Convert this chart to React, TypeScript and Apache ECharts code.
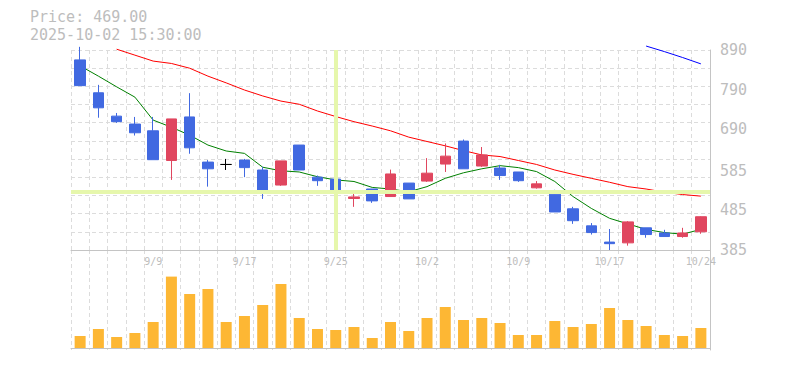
import React, { useEffect, useRef } from 'react';
import * as echarts from 'echarts';

const dates = ['9/3','9/4','9/5','9/8','9/9','9/10','9/11','9/12','9/16','9/17','9/18','9/19','9/22','9/24','9/25','9/26','9/29','9/30','10/1','10/2','10/3','10/6','10/7','10/8','10/9','10/10','10/14','10/15','10/16','10/17','10/20','10/21','10/22','10/23','10/24'];
const opens  = [865,782,723,703,686,611,721,607,601,612,587,549,650,569,564,515,539,520,554,559,602,660,597,592,582,542,526,489,446,405,403,441,428,419,431];
const closes = [800,744,709,681,613,716,643,590,601,593,530,610,587,560,532,519,509,577,514,579,622,590,625,573,560,552,481,459,429,401,456,424,419,428,469];
const lows   = [800,719,706,674,613,562,628,545,587,569,514,547,587,547,532,494,504,520,514,557,582,590,595,562,557,540,481,451,424,385,396,416,419,416,426];
const highs  = [898,802,731,721,721,716,781,612,615,615,595,610,650,573,564,532,539,588,554,617,654,664,645,600,582,559,537,494,453,438,458,441,436,441,470];
const maShort = [850,824,797,771,713,695,675,650,635,629,594,585,582,570,562,558,543,539,532,545,566,580,590,598,593,583,558,520,490,465,451,437,429,425,437];
const maMid = [null,null,892,877,862,856,844,824,807,789,774,761,753,736,722,709,698,686,670,659,648,636,625,621,611,601,587,576,566,556,545,539,531,525,521];
const maLong = [null,null,null,null,null,null,null,null,null,null,null,null,null,null,null,null,null,null,null,null,null,null,null,null,null,null,null,null,null,null,null,900,886,871,855];
const volumes = [60,95,55,75,130,357,270,295,130,160,215,320,150,95,90,105,50,130,85,150,205,140,150,125,65,65,135,105,120,200,140,110,65,60,100];
const priceTicks = [385,485,585,690,790,890];
const priceMin = 385;
const priceMax = 890;
const gridDivisions = 11;
const crosshairDate = '9/25';
const crosshairPrice = 533;
const titlePrice = 'Price: 469.00';
const titleTime = '2025-10-02 15:30:00';

const MONO = "'DejaVu Sans Mono', monospace";
const GRAY = '#bdbdbd';
const AXIS = '#c4c4c4';
const SPLIT = { show: true, lineStyle: { color: '#dcdcdc', type: [4, 3] as any, width: 1 } };

export default function App() {
  const ref = useRef<HTMLDivElement>(null);
  useEffect(() => {
    document.body.style.margin = '0';
    const chart = echarts.init(ref.current!, null, { renderer: 'svg' });
    const candleData = dates.map((_, i) => [opens[i], closes[i], lows[i], highs[i]]);
    const titleStyle = { fontFamily: MONO, fontSize: 15, lineHeight: 15, color: GRAY, fontWeight: 'normal' };
    chart.setOption({
      animation: false,
      title: [
        { text: titlePrice, left: 30, top: 9, padding: 0, textStyle: titleStyle },
        { text: titleTime, left: 30, top: 27, padding: 0, textStyle: titleStyle },
      ],
      grid: [
        { left: 71, right: 75, top: 50, height: 200 },
        { left: 71, right: 75, top: 250, height: 100 },
      ],
      xAxis: [
        {
          type: 'category', gridIndex: 0, data: dates, boundaryGap: true,
          axisLine: { show: true, lineStyle: { color: AXIS, width: 1 } },
          axisTick: { show: false },
          axisLabel: {
            show: true, margin: 6, fontSize: 10, fontFamily: MONO, color: GRAY,
            interval: (i: number) => (dates.length - 1 - i) % 5 === 0,
          },
          splitLine: { ...SPLIT, interval: 0 },
        },
        {
          type: 'category', gridIndex: 1, data: dates, boundaryGap: true,
          axisLine: { show: true, lineStyle: { color: AXIS, width: 1 } },
          axisTick: { show: false },
          axisLabel: { show: false },
          splitLine: { ...SPLIT, interval: 0 },
        },
      ],
      yAxis: [
        {
          type: 'value', gridIndex: 0, position: 'right', min: priceMin, max: priceMax, scale: true,
          axisLine: { show: true, lineStyle: { color: AXIS, width: 1 } },
          axisTick: { show: false },
          splitLine: { show: false },
          axisLabel: {
            show: true, customValues: priceTicks, margin: 10, fontSize: 15, fontFamily: MONO,
            color: GRAY, padding: [5, 0, 0, 0],
          },
        },
        {
          type: 'value', gridIndex: 0, position: 'left', min: 0, max: gridDivisions, interval: 1,
          axisLine: { show: false }, axisTick: { show: false }, axisLabel: { show: false },
          splitLine: SPLIT,
        },
        {
          type: 'value', gridIndex: 1, position: 'right', min: -10, max: 490,
          axisLine: { show: true, lineStyle: { color: AXIS, width: 1 } },
          axisTick: { show: false }, axisLabel: { show: false }, splitLine: { show: false },
        },
      ],
      series: [
        {
          name: 'crosshair', type: 'line', xAxisIndex: 0, yAxisIndex: 0, data: [], z: 1,
          markLine: {
            silent: true, symbol: ['none', 'none'], label: { show: false },
            lineStyle: { color: '#e6f7ac', width: 4, type: 'solid' },
            emphasis: { disabled: true },
            data: [{ xAxis: crosshairDate }, { yAxis: crosshairPrice }],
          },
        },
        {
          name: 'MA short', type: 'line', xAxisIndex: 0, yAxisIndex: 0, data: maShort, z: 2,
          showSymbol: false, clip: false, lineStyle: { color: '#008000', width: 1 },
        },
        {
          name: 'MA mid', type: 'line', xAxisIndex: 0, yAxisIndex: 0, data: maMid, z: 2,
          showSymbol: false, clip: false, lineStyle: { color: '#ff0000', width: 1 },
        },
        {
          name: 'MA long', type: 'line', xAxisIndex: 0, yAxisIndex: 0, data: maLong, z: 2,
          showSymbol: false, clip: false, lineStyle: { color: '#0000ff', width: 1 },
        },
        {
          name: 'price', type: 'candlestick', xAxisIndex: 0, yAxisIndex: 0, data: candleData, z: 3,
          barWidth: 11, clip: false,
          itemStyle: {
            color: '#e0465f', color0: '#4169e1',
            borderColor: '#e0465f', borderColor0: '#4169e1', borderColorDoji: '#000000',
            borderWidth: 1,
          },
        },
        {
          name: 'volume', type: 'bar', xAxisIndex: 1, yAxisIndex: 2, data: volumes,
          barWidth: 11, itemStyle: { color: '#fdb734' },
        },
      ],
    });
    return () => chart.dispose();
  }, []);
  return <div ref={ref} style={{ position: 'absolute', left: 0, top: 0, width: 785, height: 370 }} />;
}
